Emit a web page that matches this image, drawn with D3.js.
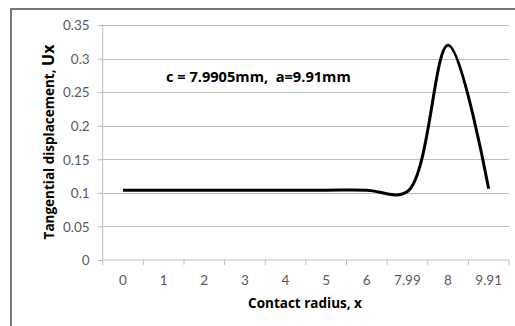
<!DOCTYPE html>
<html lang="en">
<head>
<meta charset="utf-8">
<style>
  body { margin: 0; background: #fff; }
  svg { display: block; }
  .tick text { font-family: Lato, sans-serif; fill: #595959; font-size: 13.5px; }
  .title { font-family: "Open Sans", sans-serif; font-weight: bold; fill: #000; }
</style>
</head>
<body>
<svg id="chart"></svg>
<script src="https://cdn.jsdelivr.net/npm/d3@7"></script>
<script>
// category axis labels (Excel line chart, evenly spaced)
var categories = ["0", "1", "2", "3", "4", "5", "6", "7.99", "8", "9.91"]
// tangential displacement Ux
var uxValues = [0.104, 0.104, 0.104, 0.104, 0.104, 0.104, 0.104, 0.102, 0.32, 0.106]
var yTicks = [0, 0.05, 0.1, 0.15, 0.2, 0.25, 0.3, 0.35]

var W = 515, H = 326
var margin = {top: 25, right: 6, bottom: 66, left: 102.7}
var width = W - margin.left - margin.right
var height = H - margin.top - margin.bottom

var svg = d3.select("#chart").attr("width", W).attr("height", H)

// chart border (cropped on right and bottom)
svg.append("path")
  .attr("d", "M11,330 L11,9 L520,9")
  .attr("fill", "none")
  .attr("stroke", "#777")
  .attr("stroke-width", 2)

var g = svg.append("g")
  .attr("transform", "translate(" + margin.left + "," + margin.top + ")")

var x = d3.scaleBand().domain(categories).range([0, width])
var y = d3.scaleLinear().domain([0, 0.35]).range([height, 0])

// gridlines
g.selectAll(".grid").data(yTicks.slice(1)).enter().append("line")
  .attr("class", "grid")
  .attr("x1", 0).attr("x2", width)
  .attr("y1", function(d){ return Math.round(y(d)) + 0.5 })
  .attr("y2", function(d){ return Math.round(y(d)) + 0.5 })
  .attr("stroke", "#bdbdbd")

// y axis
var yAxis = g.append("g")
  .call(d3.axisLeft(y).tickValues(yTicks).tickSize(5).tickPadding(8)
    .tickFormat(function(d){ return d3.format("")(+d.toFixed(2)) }))
yAxis.select(".domain").attr("stroke", "#bdbdbd").attr("d", "M0," + height + "V0")
yAxis.selectAll(".tick line").attr("stroke", "#bdbdbd")
yAxis.selectAll(".tick text").attr("dy", "0.35em")

// x axis: ticks between categories
var xAxis = g.append("g").attr("transform", "translate(0," + height + ")")
xAxis.append("line").attr("x1", 0).attr("x2", width).attr("stroke", "#bdbdbd")
var bounds = categories.map(function(c){ return x(c) }).concat([width])
xAxis.selectAll(".xt").data(bounds).enter().append("line")
  .attr("x1", function(d){ return d }).attr("x2", function(d){ return d })
  .attr("y1", 0).attr("y2", 5).attr("stroke", "#bdbdbd")
xAxis.selectAll(".tick").data(categories).enter().append("g")
  .attr("class", "tick")
  .append("text")
  .attr("x", function(d){ return x(d) + x.bandwidth() / 2 })
  .attr("y", 25)
  .attr("text-anchor", "middle")
  .text(function(d){ return d })

// smoothed line
var line = d3.line()
  .x(function(d, i){ return x(categories[i]) + x.bandwidth() / 2 })
  .y(function(d){ return y(d) })
  .curve(d3.curveCatmullRom.alpha(0.5))

g.append("path")
  .datum(uxValues)
  .attr("d", line)
  .attr("fill", "none")
  .attr("stroke", "#000")
  .attr("stroke-width", 3)

// annotation
g.append("text")
  .attr("class", "title")
  .attr("x", 166 - margin.left)
  .attr("y", 82 - margin.top)
  .attr("font-size", 14.6)
  .attr("xml:space", "preserve")
  .text("c = 7.9905mm,  a=9.91mm")

// axis titles
svg.append("text")
  .attr("class", "title")
  .attr("x", 305).attr("y", 308)
  .attr("text-anchor", "middle")
  .attr("font-size", 13.5)
  .text("Contact radius, x")

var yt = svg.append("text")
  .attr("class", "title")
  .attr("transform", "translate(54,142) rotate(-90)")
  .attr("text-anchor", "middle")
  .attr("font-size", 13.5)
yt.append("tspan").text("Tangential displacement, ")
yt.append("tspan").attr("font-size", 16).text("Ux")
</script>
</body>
</html>
